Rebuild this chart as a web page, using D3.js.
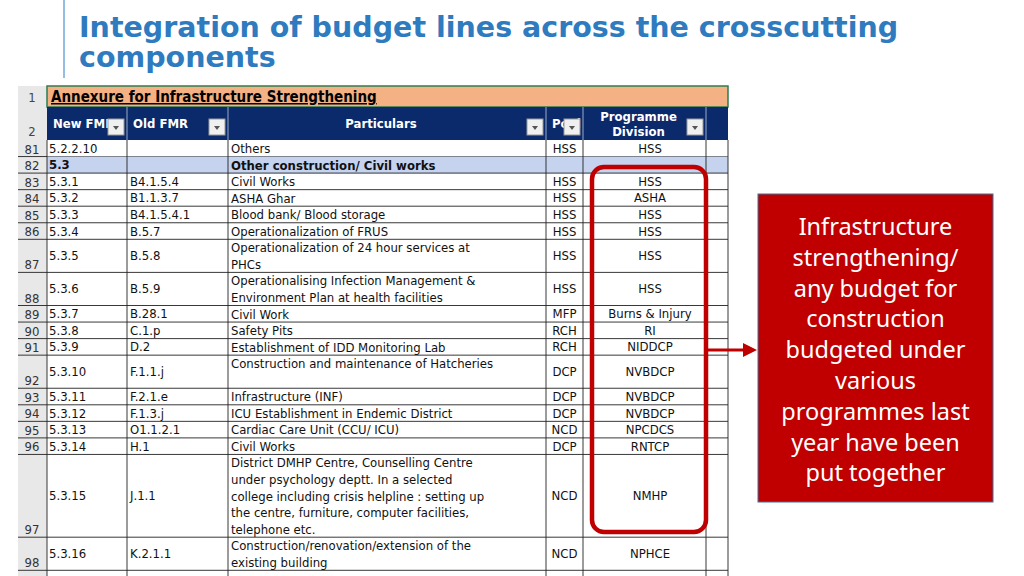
<!DOCTYPE html><html><head><meta charset="utf-8"><script src="https://cdn.jsdelivr.net/npm/d3@7"></script>
<style>body{margin:0;background:#fff}svg{display:block}</style></head><body><svg id="c" width="1024" height="576"></svg>
<script>
const rowNums=["81","82","83","84","85","86","87","88","89","90","91","92","93","94","95","96","97","98",""];
const newFMR=["5.2.2.10","5.3","5.3.1","5.3.2","5.3.3","5.3.4","5.3.5","5.3.6","5.3.7","5.3.8","5.3.9","5.3.10","5.3.11","5.3.12","5.3.13","5.3.14","5.3.15","5.3.16",""];
const oldFMR=["","","B4.1.5.4","B1.1.3.7","B4.1.5.4.1","B.5.7","B.5.8","B.5.9","B.28.1","C.1.p","D.2","F.1.1.j","F.2.1.e","F.1.3.j","O1.1.2.1","H.1","J.1.1","K.2.1.1",""];
const particulars=[["Others"],["Other construction/ Civil works"],["Civil Works"],["ASHA Ghar"],["Blood bank/ Blood storage"],["Operationalization of FRUS"],["Operationalization of 24 hour services at","PHCs"],["Operationalising Infection Management &","Environment Plan at health facilities"],["Civil Work"],["Safety Pits"],["Establishment of IDD Monitoring Lab"],["Construction and maintenance of Hatcheries"],["Infrastructure (INF)"],["ICU Establishment in Endemic District"],["Cardiac Care Unit (CCU/ ICU)"],["Civil Works"],["District DMHP Centre, Counselling Centre","under psychology deptt. In a selected","college including crisis helpline : setting up","the centre, furniture, computer facilities,","telephone etc."],["Construction/renovation/extension of the","existing building"],[""]];
const pool=["HSS","","HSS","HSS","HSS","HSS","HSS","HSS","MFP","RCH","RCH","DCP","DCP","DCP","NCD","DCP","NCD","NCD",""];
const division=["HSS","","HSS","ASHA","HSS","HSS","HSS","HSS","Burns & Injury","RI","NIDDCP","NVBDCP","NVBDCP","NVBDCP","NPCDCS","RNTCP","NMHP","NPHCE",""];
const rowLines=[1,1,1,1,1,1,2,2,1,1,1,2,1,1,1,1,5,2,1];
const headers=["New FMR","Old FMR","Particulars","Pool","Programme Division",""];
const colEdges=[47,127,228,546,583,706,728];
const calloutLines=["Infrastructure","strengthening/","any budget for","construction","budgeted under","various","programmes last","year have been","put together"];

const svg=d3.select("#c");
const F="'DejaVu Sans Condensed','DejaVu Sans',sans-serif";
// title
svg.append("line").attr("x1",64).attr("x2",64).attr("y1",0).attr("y2",78).attr("stroke","#6fa8dc").attr("stroke-width",1.5);
["Integration of budget lines across the crosscutting","components"].forEach((t,i)=>svg.append("text").attr("x",79).attr("y",37+i*30).attr("font-family","'DejaVu Sans',sans-serif").attr("font-weight","bold").attr("font-size",28.5).attr("fill","#2e7bbf").text(t));

// rows y positions
const unit=16.55, tableTop=140;
const ys=[tableTop];rowLines.forEach(n=>ys.push(ys[ys.length-1]+n*unit));
const g=svg.append("g");
// row number column background
g.append("rect").attr("x",18).attr("y",86).attr("width",29).attr("height",490).attr("fill","#e8e8e8");
// row1
g.append("rect").attr("x",47).attr("y",86).attr("width",681).attr("height",21).attr("fill","#f4b183").attr("stroke","#2e7d4f").attr("stroke-width",1.5);
g.append("text").attr("x",51).attr("y",102).attr("font-family",F).attr("font-weight","bold").attr("font-size",15).attr("text-decoration","underline").text("Annexure for Infrastructure Strengthening");
g.append("text").attr("x",32).attr("y",102).attr("text-anchor","middle").attr("font-family",F).attr("font-size",13).attr("fill","#444").text("1");
// header
g.append("rect").attr("x",47).attr("y",107).attr("width",681).attr("height",33).attr("fill","#0b2a6b");
g.append("text").attr("x",32).attr("y",136).attr("text-anchor","middle").attr("font-family",F).attr("font-size",13).attr("fill","#444").text("2");
headers.forEach((h,i)=>{
  const x0=colEdges[i],x1=colEdges[i+1];
  if(i>0)g.append("line").attr("x1",x0).attr("x2",x0).attr("y1",107).attr("y2",140).attr("stroke","#fff").attr("stroke-width",0.6);
  if(!h)return;
  const lines=i===4?["Programme","Division"]:[h];
  lines.forEach((l,k)=>g.append("text").attr("x",i===2||i===4?(x0+x1)/2-6:x0+6).attr("y",lines.length>1?121+k*15:128).attr("text-anchor",i===2||i===4?"middle":"start").attr("font-family",F).attr("font-weight","bold").attr("font-size",13).attr("fill","#fff").text(i===3?"Pool":l));
  g.append("rect").attr("x",x1-19).attr("y",119).attr("width",16).attr("height",16).attr("fill","#f0f0f0").attr("stroke","#999");
  g.append("path").attr("d",`M${x1-14},126 l6,0 l-3,4 z`).attr("fill","#555");
});
// header over-draw overlap trimming (Pool label cut by button) handled by button drawn after
// body rows
rowNums.forEach((r,i)=>{
  const y0=ys[i],y1=ys[i+1];
  if(i===1)g.append("rect").attr("x",47).attr("y",y0).attr("width",681).attr("height",y1-y0).attr("fill","#c5d3ee");
  g.append("line").attr("x1",18).attr("x2",728).attr("y1",y1).attr("y2",y1).attr("stroke","#222").attr("stroke-width",0.9);
  g.append("text").attr("x",32).attr("y",y1-3).attr("text-anchor","middle").attr("font-family",F).attr("font-size",13).attr("fill","#333").text(r);
  const mid=(y0+y1)/2+4.5, bold=i===1?"bold":"normal";
  const txt=(x,t,anchor)=>g.append("text").attr("x",x).attr("y",mid).attr("text-anchor",anchor||"start").attr("font-family",F).attr("font-size",13).attr("font-weight",bold).attr("fill","#111").text(t);
  txt(49,newFMR[i]);txt(130,oldFMR[i]);txt(564.5,pool[i],"middle");txt(650,division[i],"middle");
  const pl=particulars[i];
  pl.forEach((l,k)=>g.append("text").attr("x",231).attr("y",y0+13+k*unit).attr("font-family",F).attr("font-size",13).attr("font-weight",bold).attr("fill","#111").text(l));
});
colEdges.forEach(x=>g.append("line").attr("x1",x).attr("x2",x).attr("y1",140).attr("y2",576).attr("stroke","#222").attr("stroke-width",0.9));
// highlight box
svg.append("rect").attr("x",592).attr("y",167).attr("width",114).attr("height",365).attr("rx",12).attr("fill","none").attr("stroke","#c00000").attr("stroke-width",4.5);
// arrow
svg.append("line").attr("x1",708).attr("x2",745).attr("y1",350).attr("y2",350).attr("stroke","#c00000").attr("stroke-width",3);
svg.append("path").attr("d","M743,343 L757,350 L743,357 Z").attr("fill","#c00000");
// callout
svg.append("rect").attr("x",758).attr("y",194).attr("width",235).attr("height",308).attr("fill","#c00000").attr("stroke","#41719c").attr("stroke-width",1);
calloutLines.forEach((l,i)=>svg.append("text").attr("x",875.5).attr("y",235+i*30.8).attr("text-anchor","middle").attr("font-family","'Noto Sans','Open Sans',sans-serif").attr("font-size",23.5).attr("fill","#fff").text(l));
</script></body></html>
